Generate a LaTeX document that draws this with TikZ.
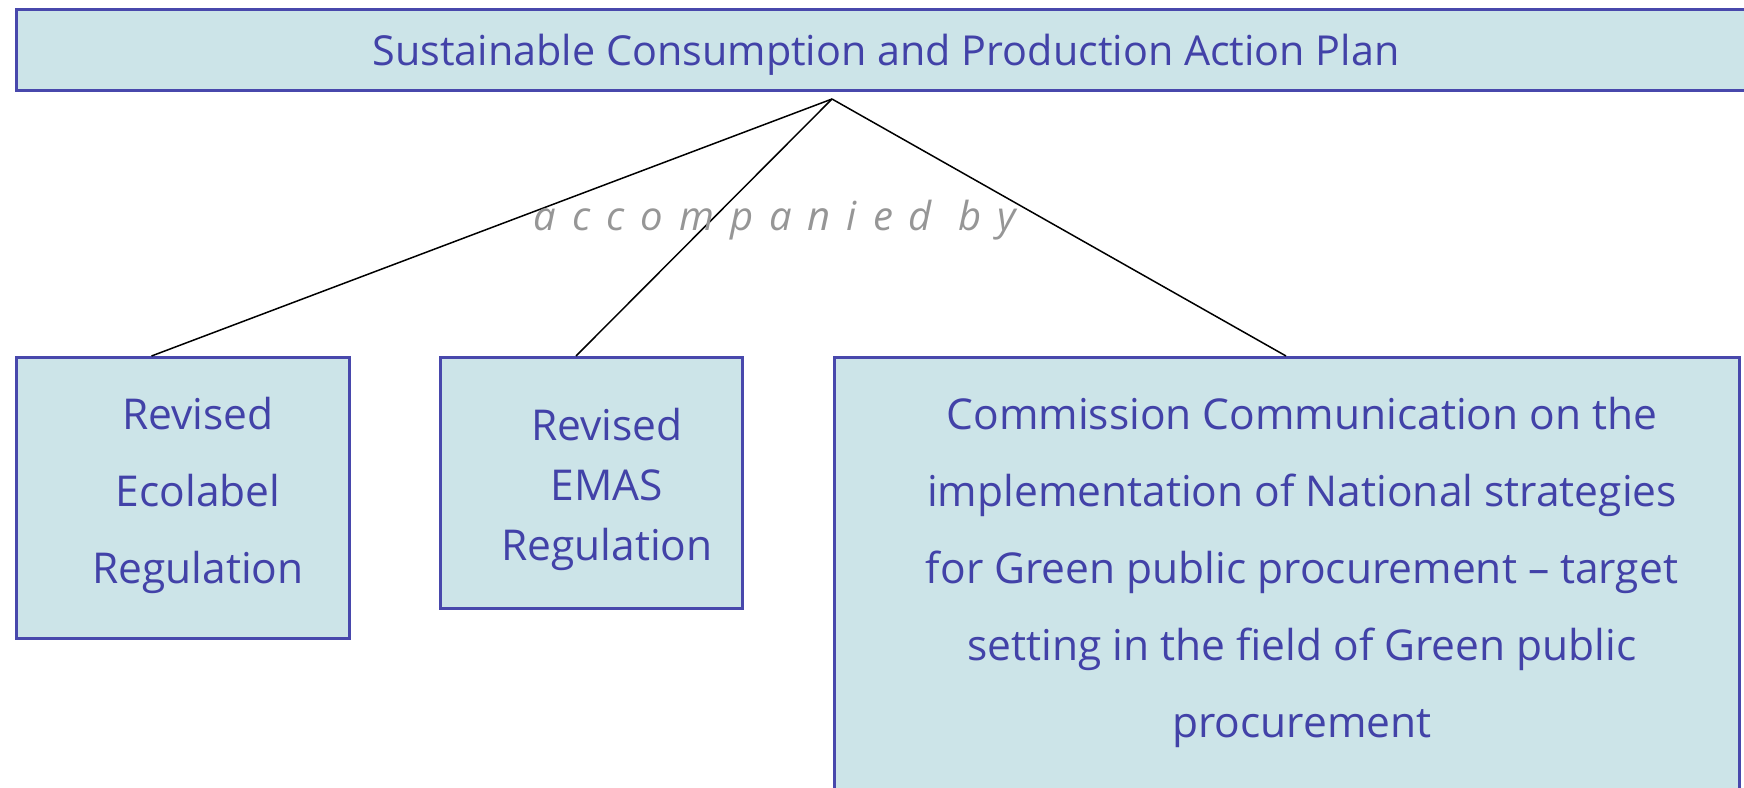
\documentclass[tikz,border=0pt]{standalone}
\usepackage{fontspec}
\setmainfont{Open Sans}
\definecolor{boxfill}{RGB}{204,228,232}
\definecolor{boxline}{RGB}{72,72,172}
\definecolor{boxtext}{RGB}{66,66,168}
\definecolor{grey}{RGB}{150,150,150}
\begin{document}
\begin{tikzpicture}[x=1pt,y=-1pt,
  box/.style={draw=boxline, fill=boxfill, line width=3pt, rectangle, anchor=north west, inner sep=0pt},
  btext/.style={text=boxtext, align=center, inner sep=0pt, font=\fontsize{42.5}{77}\selectfont},
  conn/.style={draw=black, line width=1.5pt}]
\useasboundingbox (0,0) rectangle (1744,787);
\clip (0,0) rectangle (1744,787);
% top box
\node[box, minimum width=1760pt, minimum height=81pt] (top) at (15,8) {};
\node[btext, font=\fontsize{41.3}{48}\selectfont] (ttop) at (886,55) {Sustainable Consumption and Production Action Plan};
% boxes
\node[box, minimum width=333pt, minimum height=281pt] (b1) at (15,356) {};
\node[box, minimum width=302pt, minimum height=251pt] (b2) at (439,356) {};
\node[box, minimum width=905pt, minimum height=460pt] (b3) at (833,356) {};
\node[btext] (t1) at (198,495) {Revised\\Ecolabel\\Regulation};
\node[btext, font=\fontsize{42.5}{60}\selectfont] (t2) at (607,489) {Revised\\EMAS\\Regulation};
\node[btext] (t3) at (1302,572) {Commission Communication on the\\implementation of National strategies\\for Green public procurement -- target\\setting in the field of Green public\\procurement};
% connectors
\coordinate (apex) at (832,99);
\draw[conn] (apex) -- ([xshift=136.5pt]b1.north west);
\draw[conn] (apex) -- ([xshift=137pt]b2.north west);
\draw[conn] (apex) -- ([xshift=453pt]b3.north west);
\node[text=grey, inner sep=0pt, font=\fontsize{40}{48}\selectfont\itshape\addfontfeature{LetterSpace=40}] (acc) at (775,220) {accompanied by};
\end{tikzpicture}
\end{document}
